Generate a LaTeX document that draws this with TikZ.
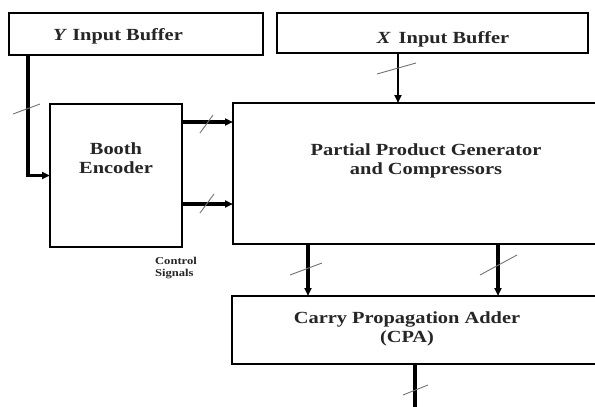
\documentclass[tikz,border=0pt]{standalone}
\usepackage{fontspec}
\setmainfont{Liberation Serif}
\newfontfamily\dfont[FakeStretch=1.2]{Liberation Serif}
\usetikzlibrary{arrows.meta}
\begin{document}
\begin{tikzpicture}[x=1pt,y=-1pt,
  box/.style={draw,line width=2.7pt,inner sep=0pt,outer sep=0pt,fill=white},
  lbl/.style={font=\dfont\bfseries\fontsize{17}{18.5}\selectfont,align=center,text=black!85,inner sep=0pt},
  small/.style={font=\dfont\bfseries\fontsize{10.5}{12}\selectfont,align=left,text=black!85,inner sep=0pt},
  wire/.style={line width=3.2pt,-{Triangle[length=8pt,width=7pt]}},
  thinwire/.style={line width=1.8pt,-{Triangle[length=8pt,width=7pt]}},
  plain/.style={line width=3.2pt},
  busmark/.style={draw=black!55,line width=0.9pt}
]
\useasboundingbox (0,0) rectangle (595,407);
\clip (0,0) rectangle (595,407);
\fill[white] (0,0) rectangle (595,407);

% boxes
\node[box,minimum width=254pt,minimum height=42pt] (ybuf) at (136,34) {};
\node[box,minimum width=311pt,minimum height=40pt] (xbuf) at (432.5,33) {};
\node[box,minimum width=132pt,minimum height=143pt] (booth) at (116,175.5) {};
\node[box,minimum width=407pt,minimum height=141pt] (ppg) at (436.5,173.5) {};
\node[box,minimum width=408pt,minimum height=68pt] (cpa) at (436,330) {};

% labels
\node[lbl] (ytxt) at (118,36) {\textit{Y} Input Buffer};
\node[lbl] (xtxt) at (443,39) {\textit{X}\, Input Buffer};
\node[lbl] (bootht) at (116,158) {Booth\\Encoder};
\node[lbl] (ppgt) at (426,161) {Partial Product Generator\\and Compressors};
\node[lbl] (cpat) at (407,329) {Carry Propagation Adder\\(CPA)};
\node[small] (ctrl) at (176,268) {Control\\Signals};

% connectors
\draw[wire] ([xshift=19pt]ybuf.south west) |- (booth.west);
\draw[wire] (booth.east |- 0,122) -- (ppg.west |- 0,122);
\draw[wire] (booth.east |- 0,204) -- (ppg.west |- 0,204);
\draw[thinwire] (xbuf.south -| 398,0) -- (ppg.north -| 398,0);
\draw[wire] (ppg.south -| 308,0) -- (cpa.north -| 308,0);
\draw[wire] (ppg.south -| 498,0) -- (cpa.north -| 498,0);
\coordinate (out) at (415,412);
\draw[plain] (cpa.south -| 415,0) -- (out);

% bus width marks
\draw[busmark] (13,114) -- (40,104);
\draw[busmark] (200,133) -- (213,115);
\draw[busmark] (200,213) -- (214,194);
\draw[busmark] (377,74) -- (416,63);
\draw[busmark] (290,275) -- (322,263);
\draw[busmark] (480,275) -- (517,255);
\draw[busmark] (403,395) -- (428,385);
\end{tikzpicture}
\end{document}
